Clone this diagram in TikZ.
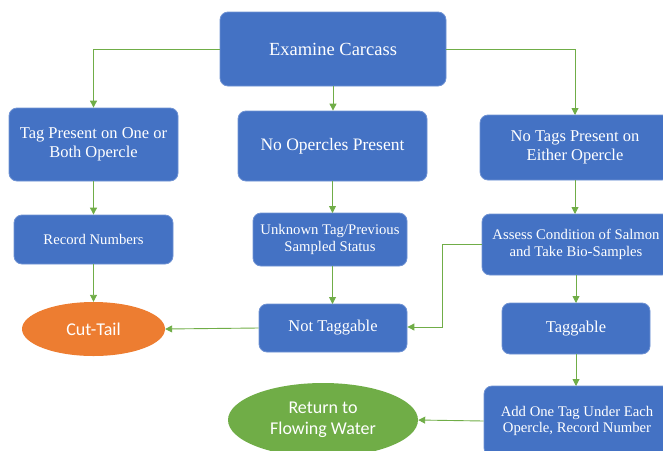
\documentclass[tikz,border=0pt]{standalone}
\usepackage{fontspec}
\setmainfont{Liberation Serif}
\newfontfamily\calib{Carlito}
\usetikzlibrary{arrows.meta,shapes.geometric}
\definecolor{boxblue}{HTML}{4472C4}
\definecolor{boxedge}{HTML}{6F92D3}
\definecolor{arrgreen}{HTML}{70AD47}
\definecolor{ovorange}{HTML}{ED7D31}
\definecolor{ovgreen}{HTML}{70AD47}
\begin{document}
\begin{tikzpicture}[x=1pt,y=-1pt,
  bx/.style={rectangle,rounded corners=8pt,fill=boxblue,draw=boxedge,line width=0.8pt,text=white,align=center,inner sep=0pt},
  bigtxt/.style={font=\fontsize{16.5}{19}\selectfont},
  smtxt/.style={font=\fontsize{14.7}{16.7}\selectfont},
  ov/.style={ellipse,draw=none,inner sep=0pt,text=white,align=center,font=\calib\fontsize{18}{21}\selectfont},
  arr/.style={draw=arrgreen,line width=0.9pt,-{Triangle[length=7pt,width=7pt]}}]
\useasboundingbox (0,0) rectangle (663,450);
\begin{scope}
\clip (0,0) rectangle (663,450);
\node[bx,minimum width=226pt,minimum height=74pt,font=\fontsize{18.5}{21}\selectfont] (exam) at (333,49) {Examine Carcass};
\node[bx,bigtxt,minimum width=169pt,minimum height=73pt] (tagp) at (93.5,144.5) {Tag Present on One or\\Both Opercle};
\node[bx,minimum width=189pt,minimum height=70pt,font=\fontsize{17.5}{20}\selectfont] (noop) at (332.5,146) {No Opercles Present};
\node[bx,bigtxt,minimum width=190pt,minimum height=65pt] (notag) at (575,147.5) {No Tags Present on\\Either Opercle};
\node[bx,smtxt,minimum width=159pt,minimum height=49pt] (rec) at (93.5,239.5) {Record Numbers};
\node[bx,smtxt,minimum width=154pt,minimum height=53pt] (unk) at (330,239.5) {Unknown Tag/Previous\\Sampled Status};
\node[bx,smtxt,minimum width=188pt,minimum height=61pt] (assess) at (576,244.5) {Assess Condition of Salmon\\and Take Bio-Samples};
\node[ov,fill=ovorange,minimum width=143pt,minimum height=54pt] (cut) at (93.5,329) {Cut-Tail};
\node[bx,bigtxt,minimum width=148pt,minimum height=48pt] (nott) at (333,328) {Not Taggable};
\node[bx,bigtxt,minimum width=148pt,minimum height=51pt] (tagg) at (576,328.5) {Taggable};
\node[ov,fill=ovgreen,minimum width=190pt,minimum height=74pt] (ret) at (323,420) {Return to\\Flowing Water};
\node[bx,smtxt,minimum width=186pt,minimum height=70pt] (add) at (577,421) {Add One Tag Under Each\\Opercle, Record Number};
\end{scope}
\draw[arr] (exam.west) -| (tagp.north);
\draw[arr] (exam.south) -- (exam.south |- noop.north);
\draw[arr] (exam.east) -| (575,115);
\draw[arr] (tagp.south) -- (rec.north);
\draw[arr] (rec.south) -- (cut.north);
\draw[arr] (332.5,181) -- (332.5,213);
\draw[arr] (332.5,266) -- (332.5,304);
\draw[arr] (nott.west) -- (cut.east);
\draw[arr] (575,180) -- (575,214);
\draw[arr] (assess.west) -- (442,244.5) -- (442,327) -- (nott.east |- 0,327);
\draw[arr] (576,275) -- (576,303);
\draw[arr] (576,354) -- (576,386);
\draw[arr] (add.west) -- (ret.east);
\end{tikzpicture}
\end{document}
